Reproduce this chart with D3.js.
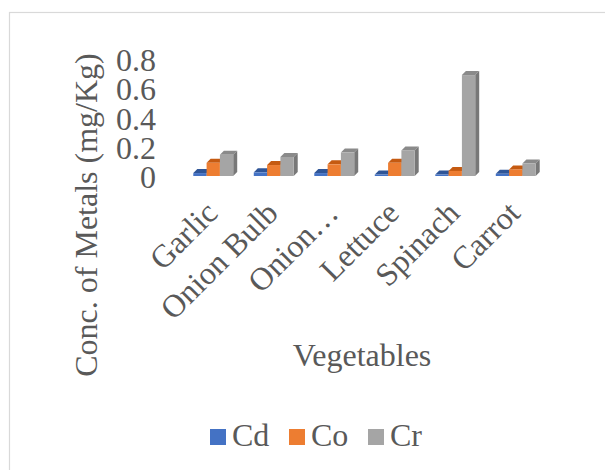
<!DOCTYPE html>
<html>
<head>
<meta charset="utf-8">
<script src="https://cdn.jsdelivr.net/npm/d3@7"></script>
<style>
  html, body { margin: 0; padding: 0; background: #fff; }
  svg { display: block; }
  text { font-family: "Liberation Serif", "Times New Roman", serif; fill: #595959; }
</style>
</head>
<body>
<div id="chart"></div>
<script>
// Metal concentrations (mg/Kg) per vegetable
const categories = ["Garlic", "Onion Bulb", "Onion…", "Lettuce", "Spinach", "Carrot"];
const seriesNames = ["Cd", "Co", "Cr"];
const cdValues = [0.02, 0.025, 0.02, 0.01, 0.01, 0.015];
const coValues = [0.09, 0.075, 0.08, 0.09, 0.035, 0.045];
const crValues = [0.145, 0.13, 0.16, 0.175, 0.69, 0.085];
const yTicks = [0, 0.2, 0.4, 0.6, 0.8];
const yTickLabels = ["0", "0.2", "0.4", "0.6", "0.8"];

const seriesValues = [cdValues, coValues, crValues];
const frontColors = ["#4472C4", "#ED7D31", "#A5A5A5"];
const topColors = ["#2F5597", "#C55A11", "#8A8A8A"];
const sideColors = ["#2A4C86", "#A94C0E", "#787878"];

const W = 605, H = 470;
const FONT = 32;
const svg = d3.select("#chart").append("svg").attr("width", W).attr("height", H);

// chart frame
svg.append("rect")
  .attr("x", 9.5).attr("y", 12.5).attr("width", 620).attr("height", 480)
  .attr("fill", "none").attr("stroke", "#D9D9D9").attr("stroke-width", 1.2);

const x = d3.scaleBand().domain(categories).range([183, 546])
  .paddingInner(0.34).paddingOuter(0.17);
const xs = d3.scaleBand().domain(seriesNames).range([0, x.bandwidth()]);
const y = d3.scaleLinear().domain([0, 0.8]).range([176, 59]);

const depthX = 4, depthY = -4;

// 3D columns, drawn left to right so each front face covers its neighbour's side
categories.forEach((cat, ci) => {
  seriesNames.forEach((s, si) => {
    const v = seriesValues[si][ci];
    const x0 = x(cat) + xs(s);
    const w = xs.bandwidth();
    const yTop = y(v), yBase = y(0);
    const g = svg.append("g");
    // top face
    g.append("path")
      .attr("d", `M${x0},${yTop} L${x0 + depthX},${yTop + depthY} L${x0 + w + depthX},${yTop + depthY} L${x0 + w},${yTop} Z`)
      .attr("fill", topColors[si]);
    // side face
    g.append("path")
      .attr("d", `M${x0 + w},${yTop} L${x0 + w + depthX},${yTop + depthY} L${x0 + w + depthX},${yBase + depthY} L${x0 + w},${yBase} Z`)
      .attr("fill", sideColors[si]);
    // front face
    g.append("rect")
      .attr("x", x0).attr("y", yTop).attr("width", w).attr("height", Math.max(0, yBase - yTop))
      .attr("fill", frontColors[si]);
  });
});

// y tick labels
svg.append("g").selectAll("text").data(yTicks).join("text")
  .attr("x", 156)
  .attr("y", d => y(d) + 1)
  .attr("dy", "0.35em")
  .attr("text-anchor", "end")
  .attr("font-size", FONT)
  .text((d, i) => yTickLabels[i]);

// category labels, rotated
svg.append("g").selectAll("text").data(categories).join("text")
  .attr("transform", d => `translate(${x(d) + x.bandwidth() / 2 + 6},${215}) rotate(-45)`)
  .attr("text-anchor", "end")
  .attr("font-size", FONT)
  .text(d => d);

// axis titles
svg.append("text")
  .attr("transform", "translate(97,215) rotate(-90)")
  .attr("text-anchor", "middle")
  .attr("font-size", FONT)
  .text("Conc. of Metals (mg/Kg)");

svg.append("text")
  .attr("x", 362).attr("y", 366)
  .attr("text-anchor", "middle")
  .attr("font-size", FONT)
  .text("Vegetables");

// legend
const legendX = [210, 289, 368];
const legend = svg.append("g");
seriesNames.forEach((s, i) => {
  legend.append("rect")
    .attr("x", legendX[i]).attr("y", 429).attr("width", 16).attr("height", 16)
    .attr("fill", frontColors[i]);
  legend.append("text")
    .attr("x", legendX[i] + 22).attr("y", 446)
    .attr("font-size", FONT)
    .text(s);
});
</script>
</body>
</html>
